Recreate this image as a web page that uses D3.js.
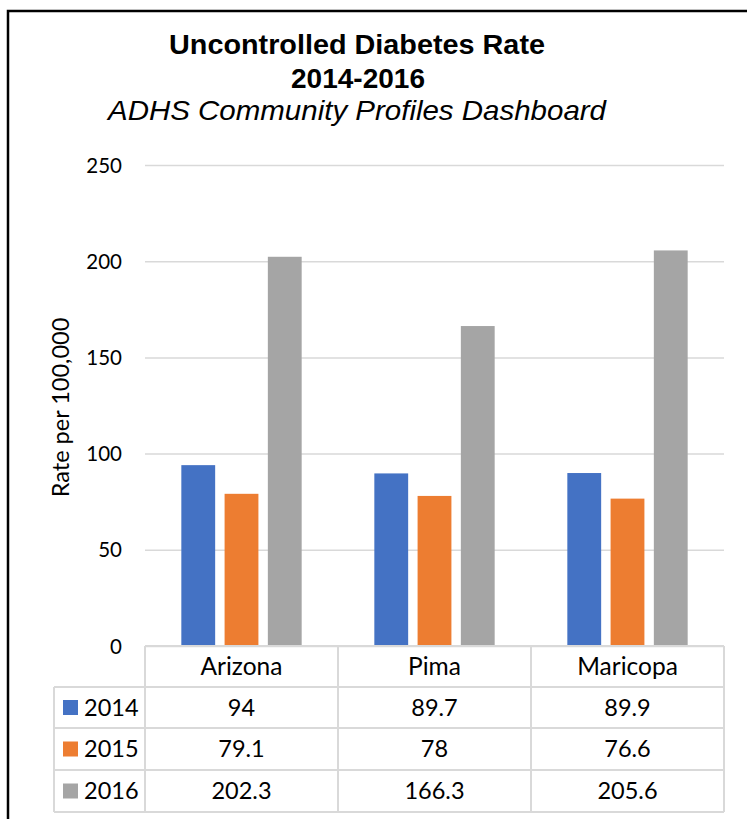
<!DOCTYPE html>
<html>
<head>
<meta charset="utf-8">
<script src="https://cdn.jsdelivr.net/npm/d3@7"></script>
<style>
  html, body { margin: 0; padding: 0; background: #fff; }
  svg { display: block; }
</style>
</head>
<body>
<svg id="chart" width="747" height="819"></svg>
<script>
const categories = ["Arizona", "Pima", "Maricopa"];
const seriesNames = ["2014", "2015", "2016"];
const values2014 = [94, 89.7, 89.9];
const values2015 = [79.1, 78, 76.6];
const values2016 = [202.3, 166.3, 205.6];
const colors = ["#4472C4", "#ED7D31", "#A5A5A5"];
const yTicks = [0, 50, 100, 150, 200, 250];
const titleLines = ["Uncontrolled Diabetes Rate", "2014-2016"];
const subtitle = "ADHS Community Profiles Dashboard";
const yAxisTitle = "Rate per 100,000";

const series = seriesNames.map((name, i) => ({
  name, color: colors[i], values: [values2014, values2015, values2016][i]
}));

const svg = d3.select("#chart");
const W = 747, H = 819;
const plot = { left: 145, right: 724, top: 165, bottom: 646 };
const rowH = [646, 687, 728, 770, 812];
const legendLeft = 54;
const font = "Lato, 'Open Sans', sans-serif";
const gridColor = "#D9D9D9";

svg.append("rect").attr("width", W).attr("height", H).attr("fill", "#fff");

// outer frame (extends past right/bottom edge)
svg.append("rect")
  .attr("x", 8).attr("y", 11)
  .attr("width", W + 20).attr("height", H + 20)
  .attr("fill", "none").attr("stroke", "#000").attr("stroke-width", 2.5);

// Titles
const titleFont = "'Liberation Sans', Arial, sans-serif";
svg.append("text").attr("x", 357).attr("y", 54)
  .attr("text-anchor", "middle").attr("font-family", titleFont)
  .attr("font-weight", "bold").attr("font-size", 27.5)
  .attr("textLength", 376).attr("lengthAdjust", "spacingAndGlyphs")
  .text(titleLines[0]);
svg.append("text").attr("x", 358).attr("y", 88)
  .attr("text-anchor", "middle").attr("font-family", titleFont)
  .attr("font-weight", "bold").attr("font-size", 28)
  .text(titleLines[1]);
svg.append("text").attr("x", 357).attr("y", 120)
  .attr("text-anchor", "middle").attr("font-family", titleFont)
  .attr("font-style", "italic").attr("font-size", 28)
  .attr("textLength", 498).attr("lengthAdjust", "spacingAndGlyphs")
  .text(subtitle);

// Scales
const y = d3.scaleLinear().domain([0, 250]).range([plot.bottom, plot.top]);
const x0 = d3.scaleBand().domain(categories).range([plot.left, plot.right]).padding(0);
const x1 = d3.scaleBand().domain(seriesNames).range([0, x0.bandwidth()])
  .paddingInner(0.218).paddingOuter(0.84);

// Gridlines + y-axis via d3.axisLeft
const yAxis = d3.axisLeft(y).tickValues(yTicks)
  .tickSize(-(plot.right - plot.left)).tickPadding(23);
const gy = svg.append("g").attr("transform", `translate(${plot.left},0)`).call(yAxis);
gy.select(".domain").remove();
gy.selectAll(".tick line").attr("stroke", gridColor).attr("stroke-width", 1.5);
gy.selectAll(".tick text").attr("font-family", font).attr("font-size", 20.5)
  .attr("fill", "#000").attr("dy", "0.35em");

// Y-axis title
svg.append("text")
  .attr("transform", `translate(69,${(plot.top + plot.bottom) / 2 + 2}) rotate(-90)`)
  .attr("text-anchor", "middle").attr("font-family", font).attr("font-size", 23.5)
  .attr("fill", "#000").text(yAxisTitle);

// Bars
const groups = svg.append("g").selectAll("g").data(categories).join("g")
  .attr("transform", d => `translate(${x0(d)},0)`);
groups.selectAll("rect")
  .data((c, ci) => series.map(s => ({ s, v: s.values[ci] })))
  .join("rect")
  .attr("x", d => x1(d.s.name))
  .attr("width", x1.bandwidth())
  .attr("y", d => y(d.v))
  .attr("height", d => y(0) - y(d.v))
  .attr("fill", d => d.s.color);

// Data table
const tbl = svg.append("g");
const lineAttrs = sel => sel.attr("stroke", gridColor).attr("stroke-width", 2);
lineAttrs(tbl.append("line").attr("x1", plot.left).attr("x2", plot.right)
  .attr("y1", rowH[0]).attr("y2", rowH[0]));
rowH.slice(1).forEach(yy => {
  lineAttrs(tbl.append("line").attr("x1", legendLeft).attr("x2", plot.right)
    .attr("y1", yy).attr("y2", yy));
});
lineAttrs(tbl.append("line").attr("x1", legendLeft).attr("x2", legendLeft)
  .attr("y1", rowH[1]).attr("y2", rowH[4]));
const colEdges = categories.map(c => x0(c)).concat([plot.right]);
colEdges.forEach(xx => {
  lineAttrs(tbl.append("line").attr("x1", xx).attr("x2", xx)
    .attr("y1", rowH[0]).attr("y2", rowH[4]));
});
// header labels
categories.forEach(c => {
  tbl.append("text").attr("x", x0(c) + x0.bandwidth() / 2)
    .attr("y", (rowH[0] + rowH[1]) / 2).attr("dy", "0.36em")
    .attr("text-anchor", "middle").attr("font-family", font).attr("font-size", 24.5)
    .attr("fill", "#000").text(c);
});
// rows
series.forEach((s, i) => {
  const cy = (rowH[i + 1] + rowH[i + 2]) / 2;
  tbl.append("rect").attr("x", 63).attr("y", cy - 7.5).attr("width", 15).attr("height", 15)
    .attr("fill", s.color);
  tbl.append("text").attr("x", 84).attr("y", cy).attr("dy", "0.36em")
    .attr("font-family", font).attr("font-size", 23.5).attr("fill", "#000").text(s.name);
  categories.forEach((c, ci) => {
    tbl.append("text").attr("x", x0(c) + x0.bandwidth() / 2)
      .attr("y", cy).attr("dy", "0.36em")
      .attr("text-anchor", "middle").attr("font-family", font).attr("font-size", 23.5)
      .attr("fill", "#000").text(s.values[ci]);
  });
});
</script>
</body>
</html>
